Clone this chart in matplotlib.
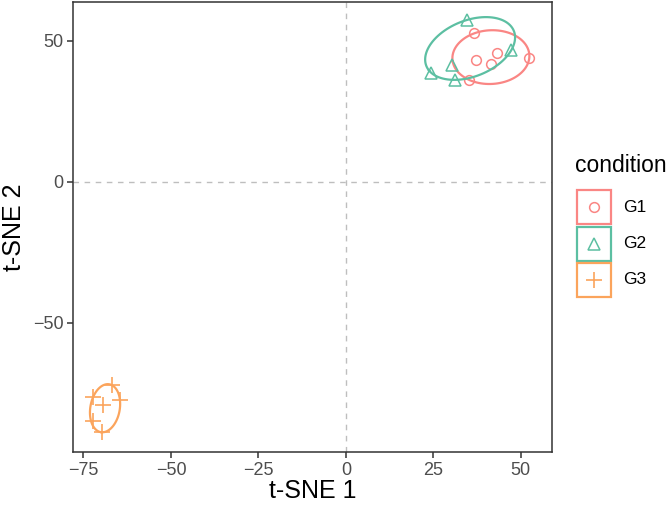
import numpy as np
import matplotlib
matplotlib.use("Agg")
import matplotlib.pyplot as plt
from matplotlib.patches import Rectangle

plt.rcParams['font.family'] = ['Liberation Sans', 'DejaVu Sans']

# t-SNE coordinates
groups = ['G1', 'G2', 'G3']
g1_x = [36.7, 37.1, 41.4, 43.1, 52.4, 35.2]
g1_y = [52.6, 43.2, 41.7, 45.7, 43.8, 36.1]
g2_x = [34.5, 47.3, 30.4, 24.3, 31.1]
g2_y = [57.3, 46.7, 41.4, 38.7, 36.1]
g3_x = [-66.9, -72.2, -64.6, -69.3, -72.2, -69.8]
g3_y = [-72.1, -76.2, -77.2, -79.2, -84.9, -88.8]

colors = ['#FA8684', '#5CBFA2', '#FBA45C']
markers = ['o', '^', '+']
msizes = [7, 8, 11]


def mvee(P, tol=1e-5, maxit=20000):
    # minimum volume enclosing ellipse (Khachiyan), like ggforce's mark ellipse
    N, d = P.shape
    # centre/scale first so the iteration behaves
    mu = P.mean(axis=0)
    sd = P.std(axis=0)
    Z = (P - mu) / sd
    Q = np.column_stack([Z, np.ones(N)]).T
    u = np.ones(N) / N
    for _ in range(maxit):
        X = Q @ np.diag(u) @ Q.T
        M = np.einsum('ij,ji->i', Q.T @ np.linalg.inv(X), Q)
        j = np.argmax(M)
        step = (M[j] - d - 1) / ((d + 1) * (M[j] - 1))
        new_u = (1 - step) * u
        new_u[j] += step
        err = np.linalg.norm(new_u - u)
        u = new_u
        if err < tol:
            break
    c = Z.T @ u
    A = np.linalg.inv(Z.T @ np.diag(u) @ Z - np.outer(c, c)) / d
    # back to data units
    S = np.diag(1 / sd)
    return mu + c * sd, S @ A @ S


def ellipse(x, y, segments=100):
    P = np.column_stack([x, y])
    c, A = mvee(P)
    vals, vecs = np.linalg.eigh(A)
    ang = np.linspace(0, 2 * np.pi, segments + 1)
    circ = np.vstack([np.cos(ang), np.sin(ang)])
    e = c[:, None] + vecs @ np.diag(1 / np.sqrt(vals)) @ circ
    return e[0], e[1]


fig = plt.figure(figsize=(6.69, 5.05), dpi=100)
ax = fig.add_axes([73 / 669, 1 - 452 / 505, (552 - 73) / 669, (452 - 2) / 505])

ax.axhline(0, color='#BEBEBE', lw=1, ls=(0, (4, 4)), zorder=0)
ax.axvline(0, color='#BEBEBE', lw=1, ls=(0, (4, 4)), zorder=0)

data = [(g1_x, g1_y), (g2_x, g2_y), (g3_x, g3_y)]
for (gx, gy), c, m, s in zip(data, colors, markers, msizes):
    ex, ey = ellipse(gx, gy)
    ax.plot(ex, ey, color=c, lw=1.6)
    if m == '+':
        ax.plot(gx, gy, ls='', marker=m, ms=s, mew=1.2, color=c)
    else:
        ax.plot(gx, gy, ls='', marker=m, ms=s, mew=1.1, mfc='none', mec=c)

ax.set_xlim(-78.0, 58.9)
ax.set_ylim(-95.8, 63.7)
ax.set_xticks([-75, -50, -25, 0, 25, 50])
ax.set_yticks([-50, 0, 50])
for sp in ax.spines.values():
    sp.set_color('#333333')
    sp.set_linewidth(1.1)
ax.tick_params(colors='#333333', length=4, width=1.1, labelsize=13, labelcolor='#4D4D4D', pad=3)
ax.set_xlabel('t-SNE 1', fontsize=18, labelpad=0)
ax.set_ylabel('t-SNE 2', fontsize=18, labelpad=5)

# legend drawn by hand, in pixel coordinates of the figure
lg = fig.add_axes([0, 0, 1, 1], facecolor='none')
lg.set_xlim(0, 669)
lg.set_ylim(505, 0)
lg.axis('off')
lg.text(575, 165, 'condition', fontsize=16.5, va='center', ha='left')
for i, (g, c, m, s) in enumerate(zip(groups, colors, markers, msizes)):
    y0 = 190 + i * 36.5
    lg.add_patch(Rectangle((577, y0), 34, 34, fill=False, ec=c, lw=1.6))
    if m == '+':
        lg.plot(594, y0 + 17, marker=m, ms=s, mew=1.2, color=c)
    else:
        lg.plot(594, y0 + 17, marker=m, ms=s, mew=1.1, mfc='none', mec=c)
    lg.text(623, y0 + 17, g, fontsize=12.5, va='center', ha='left')

fig.savefig('out.png', dpi=100)
